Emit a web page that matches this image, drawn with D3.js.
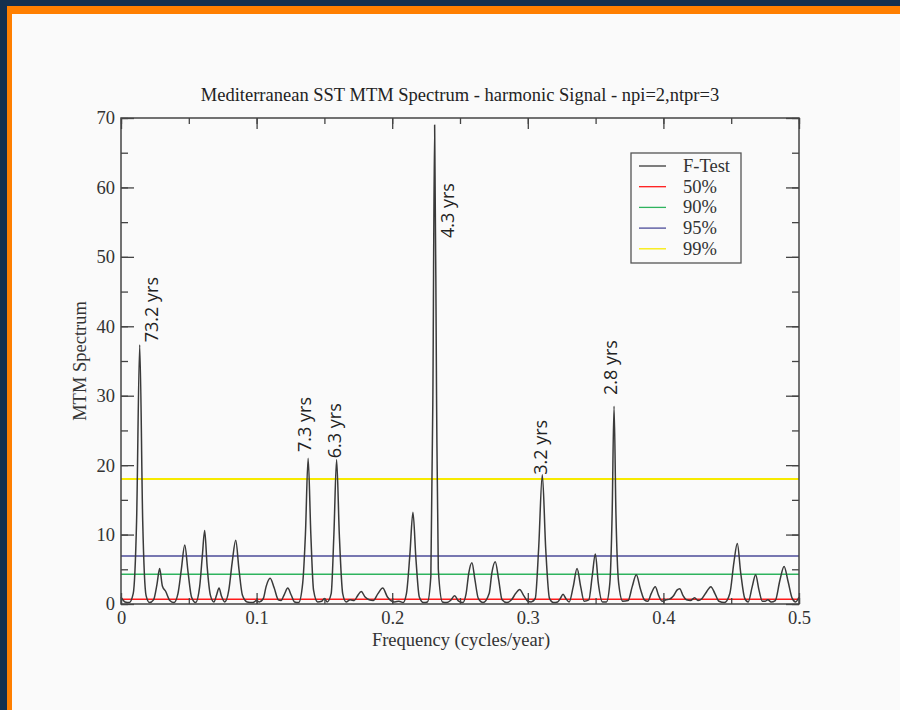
<!DOCTYPE html>
<html>
<head>
<meta charset="utf-8">
<script src="https://cdn.jsdelivr.net/npm/d3@7"></script>
<style>
  html, body { margin: 0; padding: 0; background: #14304f; }
  svg { display: block; }
  .serif { font-family: "Liberation Serif", "Times New Roman", serif; }
</style>
</head>
<body>
<svg id="viz" width="900" height="710"></svg>
<script>
// Chart data
const chartTitle = 'Mediterranean SST MTM Spectrum - harmonic Signal - npi=2,ntpr=3';
const xTicks = [0, 0.1, 0.2, 0.3, 0.4, 0.5];
const yTicks = [0, 10, 20, 30, 40, 50, 60, 70];

// F-test curve: [frequency, value]
const fTest = [
  [0.000, 1.0], [0.003, 0.3], [0.006, 0.2], [0.009, 1.5], [0.0115, 12], [0.0138, 37.3],
  [0.016, 12], [0.0185, 1.2], [0.021, 0.2], [0.024, 0.6], [0.0265, 2.8], [0.0285, 5.1],
  [0.0305, 2.6], [0.033, 1.8], [0.036, 0.5], [0.039, 0.2], [0.042, 1.5], [0.0445, 5.0],
  [0.047, 8.5], [0.0495, 4.5], [0.052, 1.0], [0.055, 0.2], [0.058, 2.5], [0.060, 7.0],
  [0.0617, 10.6], [0.0635, 5.5], [0.066, 1.2], [0.0685, 0.3], [0.0705, 1.3], [0.0723, 2.3],
  [0.074, 1.2], [0.0765, 0.3], [0.0795, 2.0], [0.082, 6.0], [0.0846, 9.2], [0.087, 5.0],
  [0.0895, 1.3], [0.093, 0.3], [0.097, 0.2], [0.100, 0.5], [0.102, 0.3], [0.105, 0.8],
  [0.107, 2.5], [0.110, 3.7], [0.113, 2.3], [0.116, 0.6], [0.118, 0.5], [0.1205, 1.4],
  [0.123, 2.3], [0.1255, 1.3], [0.128, 0.3], [0.131, 0.2], [0.134, 3.0], [0.136, 10],
  [0.138, 21], [0.140, 10], [0.142, 2.0], [0.145, 0.3], [0.148, 0.4], [0.150, 0.8],
  [0.152, 0.3], [0.155, 1.5], [0.157, 10], [0.159, 20.8], [0.161, 10], [0.1635, 1.5],
  [0.166, 0.3], [0.169, 0.6], [0.172, 0.5], [0.1745, 1.2], [0.1772, 1.8], [0.180, 1.0],
  [0.183, 0.6], [0.186, 0.5], [0.1895, 1.5], [0.193, 2.3], [0.1965, 1.0], [0.199, 0.5],
  [0.202, 0.3], [0.205, 0.4], [0.208, 0.2], [0.2105, 1.5], [0.213, 7.0], [0.2153, 13.2],
  [0.2175, 6.5], [0.220, 1.0], [0.223, 0.2], [0.226, 0.3], [0.2285, 4.0], [0.230, 30],
  [0.2313, 69], [0.2327, 30], [0.234, 5], [0.237, 0.3], [0.240, 0.2], [0.243, 0.5],
  [0.246, 1.2], [0.249, 0.4], [0.252, 0.2], [0.2545, 1.5], [0.2565, 4.5], [0.2588, 5.95],
  [0.261, 3.5], [0.2635, 0.8], [0.267, 0.2], [0.2715, 1.5], [0.2735, 4.5], [0.276, 6.1],
  [0.2785, 3.5], [0.281, 0.6], [0.2845, 0.2], [0.288, 0.6], [0.291, 1.5], [0.294, 2.1],
  [0.297, 1.2], [0.300, 0.4], [0.3025, 0.3], [0.3055, 0.8], [0.308, 8], [0.3107, 18.6],
  [0.3132, 8], [0.316, 0.8], [0.319, 0.2], [0.322, 0.3], [0.324, 0.8], [0.326, 1.4],
  [0.328, 0.8], [0.3305, 0.3], [0.3335, 2.5], [0.3363, 5.1], [0.339, 2.5], [0.3415, 0.4],
  [0.345, 0.6], [0.3475, 4.0], [0.3498, 7.2], [0.352, 3.0], [0.355, 0.3], [0.358, 0.3],
  [0.3605, 3.0], [0.3622, 13], [0.3636, 28.5], [0.365, 13], [0.367, 3], [0.370, 0.4],
  [0.374, 0.5], [0.377, 2.5], [0.380, 4.2], [0.383, 2.2], [0.386, 0.6], [0.3885, 0.4],
  [0.391, 1.5], [0.394, 2.5], [0.3965, 1.2], [0.399, 0.4], [0.402, 0.6], [0.4045, 0.7],
  [0.4075, 1.2], [0.410, 2.0], [0.412, 2.2], [0.4145, 1.2], [0.417, 0.6], [0.420, 0.5],
  [0.423, 0.9], [0.4255, 0.5], [0.4285, 0.8], [0.432, 1.8], [0.435, 2.5], [0.438, 1.5],
  [0.441, 0.4], [0.445, 0.2], [0.449, 1.5], [0.452, 6.0], [0.4545, 8.7], [0.457, 4.5],
  [0.460, 0.8], [0.4625, 0.3], [0.4655, 2.5], [0.468, 4.2], [0.4705, 2.0], [0.473, 0.4],
  [0.475, 0.4], [0.477, 0.6], [0.4795, 0.3], [0.4825, 0.5], [0.486, 3.5], [0.489, 5.4],
  [0.492, 3.2], [0.495, 0.8], [0.4975, 0.3], [0.500, 1.0]
];

// Confidence levels (horizontal lines)
const levelNames  = ['50%', '90%', '95%', '99%'];
const levelValues = [0.7, 4.3, 6.9, 18.0];
const levelColors = ['#ff1a1a', '#2eb35e', '#4b4b99', '#f7ea00'];

// Period annotations: text, anchor frequency, anchor value (bottom of text)
const peakLabels = ['73.2 yrs', '7.3 yrs', '6.3 yrs', '4.3 yrs', '3.2 yrs', '2.8 yrs'];
const labelFreqs = [0.0225, 0.136, 0.158, 0.2412, 0.310, 0.3615];
const labelVals  = [37.7, 21.9, 21.0, 52.7, 18.6, 30.1];

// Layout
const svg = d3.select('#viz');
const plot = { left: 121, right: 799, top: 118, bottom: 604 };

// Page frame
svg.append('rect').attr('x', 0).attr('y', 0).attr('width', 900).attr('height', 710).attr('fill', '#14304f');
svg.append('rect').attr('x', 7).attr('y', 6).attr('width', 893).attr('height', 704).attr('fill', '#ff7f00');
svg.append('rect').attr('x', 12).attr('y', 14).attr('width', 888).attr('height', 696).attr('fill', '#fafafa');

const x = d3.scaleLinear().domain([0, 0.5]).range([plot.left, plot.right]);
const y = d3.scaleLinear().domain([0, 70]).range([plot.bottom, plot.top]);

// Title
svg.append('text')
   .attr('class', 'serif')
   .attr('x', (plot.left + plot.right) / 2)
   .attr('y', 101)
   .attr('text-anchor', 'middle')
   .attr('font-size', 18.5)
   .attr('fill', '#222')
   .text(chartTitle);

// Confidence lines
const g = svg.append('g');
g.selectAll('.level')
 .data(levelValues)
 .join('line')
   .attr('x1', plot.left).attr('x2', plot.right)
   .attr('y1', d => y(d)).attr('y2', d => y(d))
   .attr('stroke', (d, i) => levelColors[i])
   .attr('stroke-width', (d, i) => i === 3 ? 2 : 1.5);

// F-test curve
const line = d3.line()
  .x(d => x(d[0]))
  .y(d => y(d[1]))
  .curve(d3.curveMonotoneX);

g.append('path')
 .datum(fTest)
 .attr('d', line)
 .attr('fill', 'none')
 .attr('stroke', '#3a3a3a')
 .attr('stroke-width', 1.5)
 .attr('stroke-linejoin', 'round');

// Axes: ticks point inward on all four sides
function styleAxis(sel) {
  sel.attr('font-family', null);
  sel.select('.domain').remove();
  sel.selectAll('line').attr('stroke', '#444').attr('stroke-width', 1.3);
  sel.selectAll('text')
     .attr('class', 'serif')
     .style('font-family', '"Liberation Serif", "Times New Roman", serif')
     .style('font-size', '18.5px')
     .attr('fill', '#333');
}

const xMinor = d3.range(0, 0.5001, 0.05);
const yMinor = d3.range(0, 70.001, 5);

svg.append('g').attr('transform', `translate(0,${plot.bottom})`)
   .call(d3.axisBottom(x).tickValues(xMinor).tickSize(-6).tickFormat(''))
   .call(styleAxis);
svg.append('g').attr('transform', `translate(0,${plot.bottom})`)
   .call(d3.axisBottom(x).tickValues(xTicks).tickSize(-11).tickPadding(7).tickFormat(d3.format('')))
   .call(styleAxis);
svg.append('g').attr('transform', `translate(0,${plot.top})`)
   .call(d3.axisTop(x).tickValues(xMinor).tickSize(-6).tickFormat(''))
   .call(styleAxis);
svg.append('g').attr('transform', `translate(0,${plot.top})`)
   .call(d3.axisTop(x).tickValues(xTicks).tickSize(-11).tickFormat(''))
   .call(styleAxis);

svg.append('g').attr('transform', `translate(${plot.left},0)`)
   .call(d3.axisLeft(y).tickValues(yMinor).tickSize(-7).tickFormat(''))
   .call(styleAxis);
svg.append('g').attr('transform', `translate(${plot.left},0)`)
   .call(d3.axisLeft(y).tickValues(yTicks).tickSize(-13).tickPadding(6).tickFormat(d3.format('d')))
   .call(styleAxis);
svg.append('g').attr('transform', `translate(${plot.right},0)`)
   .call(d3.axisRight(y).tickValues(yMinor).tickSize(-7).tickFormat(''))
   .call(styleAxis);
svg.append('g').attr('transform', `translate(${plot.right},0)`)
   .call(d3.axisRight(y).tickValues(yTicks).tickSize(-13).tickFormat(''))
   .call(styleAxis);

// Frame
svg.append('rect')
   .attr('x', plot.left).attr('y', plot.top)
   .attr('width', plot.right - plot.left).attr('height', plot.bottom - plot.top)
   .attr('fill', 'none').attr('stroke', '#444').attr('stroke-width', 1.5);

// Axis titles
svg.append('text')
   .attr('class', 'serif')
   .attr('x', (plot.left + plot.right) / 2 + 1)
   .attr('y', 646)
   .attr('text-anchor', 'middle')
   .attr('font-size', 18.5).attr('fill', '#333')
   .text('Frequency (cycles/year)');

svg.append('text')
   .attr('class', 'serif')
   .attr('transform', `translate(86,${(plot.top + plot.bottom) / 2}) rotate(-90)`)
   .attr('text-anchor', 'middle')
   .attr('font-size', 18.5).attr('fill', '#333')
   .text('MTM Spectrum');

// Peak annotations
svg.selectAll('.peak-label')
   .data(peakLabels)
   .join('text')
     .attr('class', 'peak-label')
     .attr('transform', (d, i) => `translate(${x(labelFreqs[i]) + 6},${y(labelVals[i])}) rotate(-90)`)
     .attr('font-family', 'Open Sans, DejaVu Sans, sans-serif')
     .attr('font-size', 18)
     .attr('fill', '#222')
     .text(d => d);

// Legend
const legend = svg.append('g').attr('transform', 'translate(631,153)');
legend.append('rect')
      .attr('width', 110).attr('height', 110)
      .attr('fill', '#fafafa').attr('stroke', '#555').attr('stroke-width', 1.3);

const legendNames  = ['F-Test'].concat(levelNames);
const legendColors = ['#3a3a3a'].concat(levelColors);
const rows = legend.selectAll('.row')
  .data(legendNames)
  .join('g')
    .attr('transform', (d, i) => `translate(0,${13 + i * 20.7})`);
rows.append('line')
    .attr('x1', 8).attr('x2', 35)
    .attr('stroke', (d, i) => legendColors[i])
    .attr('stroke-width', 1.3);
rows.append('text')
    .attr('class', 'serif')
    .attr('x', 52).attr('y', 6)
    .attr('font-size', 18.5).attr('fill', '#333')
    .text(d => d);
</script>
</body>
</html>
